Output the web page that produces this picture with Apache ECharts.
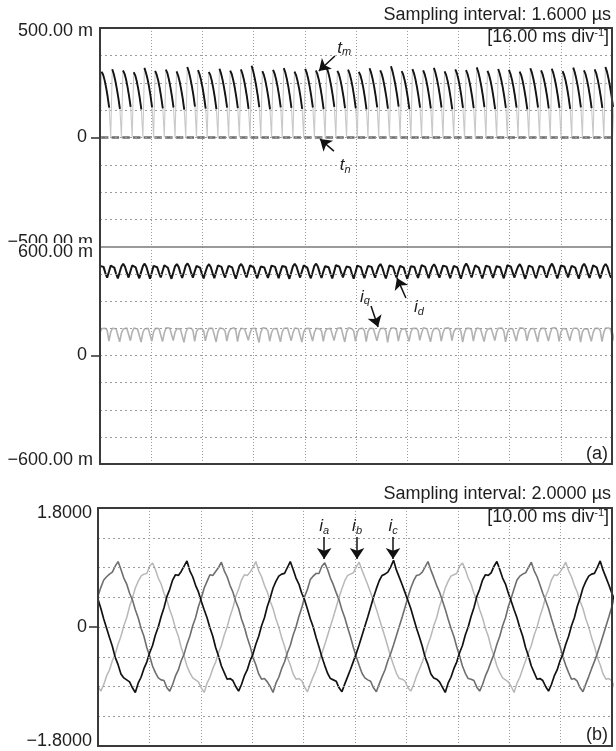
<!DOCTYPE html>
<html>
<head>
<meta charset="utf-8">
<script src="https://cdn.jsdelivr.net/npm/echarts@6/dist/echarts.min.js"></script>
<style>
  html, body { margin: 0; padding: 0; background: #fff; }
  #chart { width: 616px; height: 751px; }
</style>
</head>
<body>
<div id="chart"></div>
<script>
// ---- scope captures (time in ms) ----
const TM_STEP = 0.4786;   // torque trace sample step
const DQ_STEP = 0.5583;   // id / iq sample step
const PH_STEP = 0.5583;   // phase-current sample step

// electromagnetic torque t_m (m-units), one tooth per 7 samples
const tmValues = [
  0, 300, 288, 262, 228, 186, 136,
  0, 312, 290, 259, 222, 180, 131,
  0, 306, 292, 266, 230, 188, 140,
  0, 298, 284, 257, 221, 178, 128,
  0, 318, 296, 268, 233, 190, 138,
  0, 304, 287, 260, 225, 182, 133,
  0, 310, 294, 265, 229, 187, 137,
  0, 302, 283, 256, 220, 179, 127,
  0, 322, 300, 270, 234, 192, 141,
  0, 308, 289, 261, 226, 183, 132,
  0, 299, 286, 259, 223, 181, 130,
  0, 314, 293, 264, 228, 186, 136,
  0, 305, 290, 262, 227, 184, 134,
  0, 311, 291, 263, 226, 183, 131,
  0, 328, 304, 272, 235, 191, 139,
  0, 303, 286, 258, 222, 180, 129,
  0, 309, 292, 265, 230, 188, 138,
  0, 317, 297, 267, 231, 187, 135,
  0, 301, 285, 258, 224, 182, 131,
  0, 313, 295, 266, 229, 186, 137,
  0, 306, 288, 260, 224, 181, 130,
  0, 320, 298, 269, 233, 190, 140,
  0, 304, 289, 262, 227, 185, 134,
  0, 310, 291, 263, 228, 184, 133,
  0, 300, 285, 258, 223, 180, 128,
  0, 316, 296, 268, 232, 189, 138,
  0, 307, 290, 261, 225, 183, 132,
  0, 325, 302, 271, 235, 192, 141,
  0, 303, 287, 259, 224, 181, 130,
  0, 312, 293, 265, 229, 186, 136,
  0, 306, 289, 262, 226, 183, 133,
  0, 318, 297, 267, 231, 188, 137,
  0, 302, 286, 258, 222, 179, 129,
  0, 311, 294, 266, 230, 187, 135,
  0, 308, 290, 262, 227, 185, 134,
  0, 320, 299, 269, 233, 190, 139,
  0, 304, 287, 259, 223, 180, 130,
  0, 313, 292, 263, 228, 185, 135,
  0, 309, 291, 264, 229, 186, 136,
  0, 301, 285, 257, 221, 179, 128,
  0, 316, 296, 267, 231, 188, 137,
  0, 306, 289, 261, 226, 184, 133,
  0, 314, 294, 265, 229, 186, 135,
  0, 303, 287, 260, 225, 182, 131,
  0, 319, 298, 268, 232, 189, 138,
  0, 307, 290, 262, 227, 184, 134,
  0, 311, 293, 264, 228, 185, 135,
  0, 322, 301, 270, 233, 190, 140,
  0
];

// load torque t_n (m-units)
const tnTimes = [0, 160];
const tnValues = [0, 0];

// d-axis current i_d (mA)
const idValues = [
  495, 506, 490, 456, 430, 463,  497, 503, 486, 452, 426, 460,
  492, 507, 491, 458, 431, 465,  498, 504, 487, 453, 427, 461,
  494, 508, 489, 455, 425, 459,  496, 502, 488, 457, 432, 466,
  499, 505, 485, 451, 424, 458,  493, 506, 490, 456, 429, 462,
  497, 509, 492, 458, 430, 464,  495, 503, 486, 452, 426, 460,
  491, 505, 489, 455, 428, 463,  498, 507, 490, 457, 431, 465,
  496, 504, 487, 453, 425, 459,  494, 506, 491, 458, 432, 466,
  499, 508, 488, 454, 427, 461,  492, 503, 487, 455, 429, 462,
  497, 506, 490, 456, 428, 463,  495, 505, 489, 452, 424, 458,
  493, 507, 492, 459, 431, 465,  498, 504, 486, 453, 427, 460,
  496, 508, 490, 456, 429, 464,  494, 505, 488, 454, 426, 461,
  499, 506, 491, 458, 432, 466,  492, 503, 487, 452, 425, 459,
  497, 507, 489, 455, 428, 462,  495, 504, 490, 457, 430, 464,
  493, 506, 487, 453, 426, 460,  498, 508, 491, 458, 431, 465,
  496, 503, 486, 452, 424, 458,  494, 505, 489, 456, 429, 463,
  499, 507, 490, 455, 427, 461,  492, 504, 488, 454, 430, 464,
  497, 506, 491, 457, 428, 462,  495, 505, 487, 453, 425, 459,
  493, 508, 492, 459, 432, 466,  498, 503, 486, 452, 426, 460,
  496, 506, 490, 456, 429, 463,  494, 504, 488, 454, 427, 461,
  499, 507, 491, 458, 431, 465,  492, 505, 487, 453, 424, 458,
  497, 506, 489, 455, 428, 462,  495, 503, 490, 457, 430, 464,
  493, 508, 488, 454, 426, 460,  498, 505, 491, 458, 432, 466,
  496, 504, 486, 452, 425, 459,  494, 507, 490, 456, 429, 463,
  499, 505, 488, 453, 427, 461,  492, 506, 491, 458, 430, 464,
  495
];

// q-axis current i_q (mA)
const iqValues = [
  126, 149, 156, 151, 139, 80,  130, 151, 154, 148, 137, 76,
  124, 147, 157, 152, 141, 82,  129, 152, 153, 147, 136, 74,
  127, 148, 158, 150, 140, 79,  131, 150, 155, 149, 138, 77,
  125, 153, 156, 152, 142, 83,  128, 149, 154, 146, 135, 73,
  126, 151, 157, 151, 139, 78,  132, 148, 153, 149, 137, 81,
  124, 150, 156, 150, 141, 75,  129, 152, 155, 148, 136, 80,
  127, 147, 158, 153, 140, 77,  130, 151, 154, 147, 138, 84,
  125, 149, 156, 151, 142, 72,  128, 153, 155, 150, 136, 79,
  126, 148, 157, 149, 139, 76,  131, 150, 153, 152, 141, 82,
  124, 152, 156, 148, 137, 74,  129, 149, 158, 151, 140, 80,
  127, 151, 154, 147, 135, 78,  130, 147, 155, 150, 139, 83,
  125, 150, 157, 153, 142, 75,  128, 153, 154, 148, 136, 79,
  126, 148, 156, 151, 138, 77,  132, 151, 153, 149, 141, 81,
  124, 149, 158, 150, 137, 73,  129, 152, 155, 152, 140, 80,
  127, 147, 156, 147, 136, 78,  130, 150, 154, 151, 139, 84,
  125, 153, 157, 148, 142, 76,  128, 149, 155, 150, 137, 79,
  126, 151, 153, 153, 141, 82,  131, 148, 156, 149, 135, 74,
  124, 150, 158, 151, 139, 80,  129, 152, 154, 147, 138, 77,
  127, 147, 157, 150, 140, 83,  130, 151, 155, 152, 136, 75,
  125, 149, 156, 148, 141, 79,  128, 153, 153, 151, 137, 81,
  126, 148, 158, 149, 139, 76,  132, 150, 154, 150, 142, 80,
  124, 152, 156, 153, 136, 78,  129, 149, 155, 147, 140, 82,
  127, 151, 157, 151, 138, 74,  130, 147, 154, 148, 141, 79,
  125, 150, 156, 150, 137, 77,  128, 152, 155, 152, 139, 81,
  127
];

// phase currents (A)
const iaValues = [
  0.47, 0.60, 0.71, 0.76, 0.80, 0.83, 0.92, 0.99, 0.87, 0.74, 0.65, 0.51, 0.41, 0.26, 0.14, -0.02, -0.14, -0.31,
  -0.44, -0.59, -0.69, -0.77, -0.80, -0.81, -0.92, -0.97, -0.87, -0.74, -0.65, -0.51, -0.41, -0.26, -0.14, 0.02, 0.14, 0.31,
  0.44, 0.59, 0.69, 0.79, 0.78, 0.84, 0.90, 0.98, 0.85, 0.76, 0.63, 0.53, 0.39, 0.28, 0.12, 0.00, -0.16, -0.29,
  -0.46, -0.57, -0.71, -0.79, -0.78, -0.83, -0.90, -0.99, -0.85, -0.76, -0.63, -0.53, -0.39, -0.28, -0.12, 0.00, 0.16, 0.29,
  0.46, 0.57, 0.72, 0.77, 0.81, 0.81, 0.92, 0.97, 0.87, 0.74, 0.64, 0.52, 0.41, 0.26, 0.14, -0.01, -0.15, -0.31,
  -0.45, -0.58, -0.70, -0.77, -0.80, -0.82, -0.92, -0.98, -0.86, -0.75, -0.65, -0.51, -0.40, -0.27, -0.13, 0.01, 0.15, 0.30,
  0.45, 0.59, 0.70, 0.78, 0.79, 0.83, 0.91, 0.99, 0.86, 0.75, 0.63, 0.53, 0.40, 0.27, 0.12, -0.02, -0.14, -0.30,
  -0.44, -0.59, -0.70, -0.78, -0.79, -0.81, -0.91, -0.97, -0.87, -0.74, -0.64, -0.52, -0.41, -0.26, -0.14, 0.02, 0.14, 0.31,
  0.44, 0.58, 0.71, 0.77, 0.80, 0.82, 0.90, 0.98, 0.85, 0.76, 0.64, 0.51, 0.40, 0.28, 0.13, -0.01, -0.16, -0.29,
  -0.45, -0.58, -0.69, -0.79, -0.78, -0.82, -0.92, -0.98, -0.86, -0.75, -0.63, -0.52, -0.40, -0.27, -0.13, 0.01, 0.15, 0.30,
  0.46
];
const ibValues = [
  -0.90, -0.97, -0.87, -0.74, -0.65, -0.51, -0.41, -0.26, -0.14, 0.02, 0.14, 0.31, 0.44, 0.59, 0.69, 0.77, 0.80, 0.81,
  0.92, 0.97, 0.87, 0.74, 0.65, 0.51, 0.41, 0.26, 0.14, -0.02, -0.14, -0.31, -0.44, -0.59, -0.69, -0.77, -0.80, -0.83,
  -0.92, -0.99, -0.85, -0.76, -0.63, -0.53, -0.39, -0.28, -0.12, 0.00, 0.16, 0.29, 0.46, 0.57, 0.71, 0.79, 0.78, 0.83,
  0.90, 0.99, 0.85, 0.76, 0.63, 0.53, 0.39, 0.28, 0.12, 0.00, -0.16, -0.29, -0.46, -0.57, -0.71, -0.79, -0.78, -0.81,
  -0.91, -0.98, -0.86, -0.75, -0.65, -0.52, -0.40, -0.27, -0.13, 0.01, 0.15, 0.30, 0.45, 0.58, 0.70, 0.78, 0.80, 0.82,
  0.91, 0.98, 0.86, 0.75, 0.64, 0.52, 0.40, 0.27, 0.13, -0.01, -0.15, -0.30, -0.45, -0.58, -0.70, -0.78, -0.79, -0.82,
  -0.92, -0.97, -0.87, -0.74, -0.64, -0.53, -0.41, -0.26, -0.14, 0.02, 0.14, 0.31, 0.44, 0.59, 0.69, 0.77, 0.79, 0.81,
  0.92, 0.97, 0.87, 0.74, 0.65, 0.51, 0.41, 0.26, 0.14, -0.02, -0.14, -0.31, -0.44, -0.59, -0.69, -0.77, -0.80, -0.83,
  -0.90, -0.99, -0.85, -0.76, -0.63, -0.51, -0.39, -0.28, -0.12, 0.00, 0.16, 0.29, 0.46, 0.57, 0.71, 0.79, 0.78, 0.83,
  0.90, 0.98, 0.85, 0.76, 0.63, 0.53, 0.39, 0.28, 0.12, 0.00, -0.16, -0.29, -0.46, -0.57, -0.71, -0.79, -0.78, -0.81,
  -0.91
];
const icValues = [
  0.42, 0.28, 0.12, -0.02, -0.16, -0.29, -0.46, -0.57, -0.71, -0.77, -0.80, -0.83, -0.92, -0.99, -0.85, -0.76, -0.63, -0.53,
  -0.39, -0.28, -0.12, 0.00, 0.16, 0.29, 0.46, 0.57, 0.71, 0.79, 0.78, 0.84, 0.92, 1.00, 0.85, 0.76, 0.63, 0.53,
  0.39, 0.26, 0.14, -0.01, -0.14, -0.31, -0.44, -0.59, -0.69, -0.79, -0.78, -0.81, -0.90, -0.97, -0.87, -0.74, -0.65, -0.51,
  -0.41, -0.26, -0.14, 0.02, 0.14, 0.31, 0.44, 0.59, 0.69, 0.77, 0.80, 0.81, 0.90, 0.99, 0.87, 0.74, 0.65, 0.51,
  0.41, 0.27, 0.12, 0.00, -0.16, -0.30, -0.45, -0.58, -0.70, -0.78, -0.80, -0.82, -0.92, -0.98, -0.86, -0.75, -0.64, -0.52,
  -0.40, -0.27, -0.13, 0.01, 0.15, 0.30, 0.45, 0.58, 0.70, 0.78, 0.80, 0.83, 0.91, 1.01, 0.86, 0.75, 0.64, 0.52,
  0.40, 0.28, 0.13, -0.02, -0.15, -0.29, -0.46, -0.57, -0.71, -0.77, -0.79, -0.83, -0.91, -0.99, -0.85, -0.76, -0.63, -0.53,
  -0.39, -0.28, -0.12, 0.00, 0.16, 0.29, 0.46, 0.57, 0.71, 0.79, 0.78, 0.82, 0.92, 0.99, 0.87, 0.74, 0.65, 0.51,
  0.39, 0.26, 0.14, -0.01, -0.14, -0.31, -0.44, -0.59, -0.69, -0.79, -0.78, -0.81, -0.90, -0.97, -0.87, -0.74, -0.65, -0.51,
  -0.41, -0.26, -0.14, 0.02, 0.14, 0.31, 0.44, 0.59, 0.69, 0.77, 0.80, 0.81, 0.90, 1.00, 0.86, 0.75, 0.64, 0.52,
  0.41
];

// axis labels
const torqueTicks = [-500, 0, 500];
const torqueTickText = ['\u2212500.00 m', '0', '500.00 m'];
const dqTicks = [-600, 0, 600];
const dqTickText = ['\u2212600.00 m', '0', '600.00 m'];
const phaseTicks = [-1.8, 0, 1.8];
const phaseTickText = ['\u22121.8000', '0', '1.8000'];

// annotation anchors: [label x, label y, arrow start x, y, arrow end x, y] in data units
const tmNote = [76.3, 409, 73.4, 372, 68.4, 304];
const tnNote = [76.6, -126, 73.1, -62, 68.75, -7];
const idNote = [99.7, 268, 95.6, 318, 92.8, 429];
const iqNote = [82.8, 324, 84.7, 274, 86.9, 158];
const iaNote = [44.0, 1.52, 44.0, 1.36, 44.0, 1.03];
const ibNote = [50.4, 1.52, 50.4, 1.36, 50.4, 1.03];
const icNote = [57.4, 1.52, 57.4, 1.36, 57.4, 1.03];

// ---- layout ----
const FONT = '"Liberation Sans", Arial, Helvetica, sans-serif';
const A = { left: 100, top: 28, width: 512, h1: 219, h2: 217 };
const B = { left: 98, top: 508, width: 514, height: 238 };
const GRID_COLOR = '#9c9c9c';
const FRAME_COLOR = '#3a3a3a';
const TEXT_COLOR = '#1e1e1e';

const toPoints = (vals, step) => vals.map((v, i) => [+(i * step).toFixed(4), v]);
// slow part of the torque trace (fast switching edges show faint on the scope)
const toSlowPoints = (vals, step) => vals.map((v, i) => [+(i * step).toFixed(4), v > 0 ? v : null]);

const baseText = { fontSize: 18, fontFamily: FONT, color: TEXT_COLOR };

// value axis carrying grid lines and the three end/zero labels
function yAxis(gridIndex, ticks, texts, min, max, interval, rich, margin, wrapHi) {
  return {
    type: 'value', gridIndex, min, max, interval, position: 'left',
    z: 3 + gridIndex,
    axisLine: { show: false },
    axisTick: { show: false },
    splitLine: { show: true, lineStyle: { color: GRID_COLOR, width: 1, type: [2, 3] } },
    axisLabel: {
      show: true, margin, showMinLabel: true, showMaxLabel: true,
      formatter: (v) => {
        const k = ticks.findIndex(t => Math.abs(t - v) < 1e-9);
        if (k < 0) return '';
        const key = ['lo', 'z', 'hi'][k];
        if (key === 'hi' && wrapHi) return '{sp| }\n{hi|' + texts[k] + '}';
        return '{' + key + '|' + texts[k] + '}';
      },
      rich
    }
  };
}

// companion axis that only draws the short tick at zero
function zeroTickAxis(gridIndex, min, max, interval) {
  return {
    type: 'value', gridIndex, min, max, interval, position: 'left', offset: 0,
    axisLine: { show: false },
    axisLabel: { show: false },
    splitLine: { show: false },
    axisTick: { show: true, customValues: [0], length: 9,
                lineStyle: { color: FRAME_COLOR, width: 1.6 } }
  };
}

function xAxis(gridIndex, max, interval, sepLine) {
  return {
    type: 'value', gridIndex, min: 0, max, interval,
    axisLabel: { show: false }, axisTick: { show: false },
    axisLine: sepLine ? { show: true, onZero: false, lineStyle: { color: '#7a7a7a', width: 1.6 } } : { show: false },
    splitLine: { show: true, lineStyle: { color: GRID_COLOR, width: 1, type: [1, 2] } }
  };
}

function arrowLine(note) {
  return [{ coord: [note[2], note[3]] }, { coord: [note[4], note[5]] }];
}

function noteLabel(note, main, sub) {
  return {
    coord: [note[0], note[1]],
    label: { formatter: '{v|' + main + '}{s|' + sub + '}' }
  };
}

const noteRich = {
  v: { fontSize: 17, fontStyle: 'italic', fontFamily: FONT, color: TEXT_COLOR, lineHeight: 20 },
  s: { fontSize: 11, fontStyle: 'italic', fontFamily: FONT, color: TEXT_COLOR, lineHeight: 20, padding: [9, 0, 0, 0] }
};

function notes(lines, labels) {
  return {
    markLine: {
      silent: true, animation: false,
      symbol: ['none', 'arrow'],
      symbolSize: 11,
      lineStyle: { color: '#111', width: 1.5, type: 'solid' },
      itemStyle: { color: '#111' },
      label: { show: false },
      emphasis: { disabled: true },
      data: lines
    },
    markPoint: {
      silent: true, animation: false,
      symbol: 'rect', symbolSize: 1,
      itemStyle: { color: 'rgba(0,0,0,0)' },
      label: { show: true, position: 'inside', rich: noteRich },
      data: labels
    }
  };
}

const chart = echarts.init(document.getElementById('chart'), null, { renderer: 'canvas' });

chart.setOption({
  animation: false,
  backgroundColor: '#fff',
  grid: [
    { left: A.left, top: A.top, width: A.width, height: A.h1 },
    { left: A.left, top: A.top + A.h1, width: A.width, height: A.h2 },
    { left: B.left, top: B.top, width: B.width, height: B.height }
  ],
  xAxis: [
    xAxis(0, 160, 16, true),
    xAxis(1, 160, 16, false),
    xAxis(2, 100, 10, false)
  ],
  yAxis: [
    yAxis(0, torqueTicks, torqueTickText, -500, 500, 125, {
      hi: Object.assign({}, baseText, { padding: [7, 0, 0, 0] }),
      lo: Object.assign({}, baseText, { padding: [0, 0, 10, 0] }),
      z:  Object.assign({}, baseText, { padding: [0, 6, 0, 0] })
    }, 7, false),
    yAxis(1, dqTicks, dqTickText, -600, 600, 150, {
      sp: { fontSize: 6, lineHeight: 10 },
      hi: Object.assign({}, baseText, { lineHeight: 15, backgroundColor: '#fff' }),
      lo: Object.assign({}, baseText, { padding: [0, 0, 8, 0] }),
      z:  Object.assign({}, baseText, { padding: [0, 6, 0, 0] })
    }, 7, true),
    yAxis(2, phaseTicks, phaseTickText, -1.8, 1.8, 0.45, {
      hi: Object.assign({}, baseText, { padding: [10, 0, 0, 0] }),
      lo: Object.assign({}, baseText, { padding: [0, 0, 10, 0] }),
      z:  Object.assign({}, baseText, { padding: [0, 5, 0, 0] })
    }, 6, false),
    zeroTickAxis(0, -500, 500, 125),
    zeroTickAxis(1, -600, 600, 150),
    zeroTickAxis(2, -1.8, 1.8, 0.45)
  ],
  series: [
    Object.assign({
      name: 't_n', type: 'line', xAxisIndex: 0, yAxisIndex: 0, z: 2,
      symbol: 'none', silent: true,
      lineStyle: { color: '#6c6c6c', width: 2.6, type: [7.5, 3.2], dashOffset: 9.8 },
      data: tnTimes.map((t, i) => [t, tnValues[i]])
    }, notes(
      [arrowLine(tmNote), arrowLine(tnNote)],
      [noteLabel(tmNote, 't', 'm'), noteLabel(tnNote, 't', 'n')]
    )),
    {
      name: 't_m', type: 'line', xAxisIndex: 0, yAxisIndex: 0, z: 3,
      symbol: 'none', silent: true,
      lineStyle: { color: '#c9c9c9', width: 1.1 },
      data: toPoints(tmValues, TM_STEP)
    },
    {
      name: 't_m slow', type: 'line', xAxisIndex: 0, yAxisIndex: 0, z: 4,
      symbol: 'none', silent: true, connectNulls: false,
      lineStyle: { color: '#141414', width: 1.9 },
      data: toSlowPoints(tmValues, TM_STEP)
    },
    {
      name: 'i_q', type: 'line', xAxisIndex: 1, yAxisIndex: 1, z: 2,
      symbol: 'none', silent: true,
      lineStyle: { color: '#b2b2b2', width: 1.6 },
      data: toPoints(iqValues, DQ_STEP)
    },
    Object.assign({
      name: 'i_d', type: 'line', xAxisIndex: 1, yAxisIndex: 1, z: 3,
      symbol: 'none', silent: true,
      lineStyle: { color: '#161616', width: 2 },
      data: toPoints(idValues, DQ_STEP)
    }, notes(
      [arrowLine(idNote), arrowLine(iqNote)],
      [noteLabel(idNote, 'i', 'd'), noteLabel(iqNote, 'i', 'q')]
    )),
    {
      name: 'i_b', type: 'line', xAxisIndex: 2, yAxisIndex: 2, z: 2,
      symbol: 'none', silent: true,
      lineStyle: { color: '#b8b8b8', width: 1.5 },
      data: toPoints(ibValues, PH_STEP)
    },
    {
      name: 'i_a', type: 'line', xAxisIndex: 2, yAxisIndex: 2, z: 3,
      symbol: 'none', silent: true,
      lineStyle: { color: '#6e6e6e', width: 1.6 },
      data: toPoints(iaValues, PH_STEP)
    },
    Object.assign({
      name: 'i_c', type: 'line', xAxisIndex: 2, yAxisIndex: 2, z: 4,
      symbol: 'none', silent: true,
      lineStyle: { color: '#121212', width: 1.7 },
      data: toPoints(icValues, PH_STEP)
    }, notes(
      [arrowLine(iaNote), arrowLine(ibNote), arrowLine(icNote)],
      [noteLabel(iaNote, 'i', 'a'), noteLabel(ibNote, 'i', 'b'), noteLabel(icNote, 'i', 'c')]
    ))
  ],
  graphic: [
    { type: 'rect', z: 100, silent: true,
      shape: { x: A.left, y: A.top, width: A.width, height: A.h1 + A.h2 },
      style: { fill: 'none', stroke: FRAME_COLOR, lineWidth: 2 } },
    { type: 'rect', z: 100, silent: true,
      shape: { x: B.left, y: B.top, width: B.width, height: B.height },
      style: { fill: 'none', stroke: FRAME_COLOR, lineWidth: 2 } },
    { type: 'text', z: 100, silent: true, x: 611, y: 15,
      style: { text: 'Sampling interval: 1.6000 \u00b5s', font: '18px ' + FONT, fill: TEXT_COLOR,
               align: 'right', verticalAlign: 'middle' } },
    { type: 'text', z: 100, silent: true, x: 609, y: 37,
      style: { text: '[16.00 ms div{sup|-1}]', font: '18px ' + FONT, fill: TEXT_COLOR,
               align: 'right', verticalAlign: 'middle',
               rich: { sup: { fontSize: 11, fontFamily: FONT, fill: TEXT_COLOR, verticalAlign: 'top', lineHeight: 20 } } } },
    { type: 'text', z: 100, silent: true, x: 608, y: 454,
      style: { text: '(a)', font: '18px ' + FONT, fill: TEXT_COLOR, align: 'right', verticalAlign: 'middle' } },
    { type: 'text', z: 100, silent: true, x: 611, y: 494,
      style: { text: 'Sampling interval: 2.0000 \u00b5s', font: '18px ' + FONT, fill: TEXT_COLOR,
               align: 'right', verticalAlign: 'middle' } },
    { type: 'text', z: 100, silent: true, x: 609, y: 517,
      style: { text: '[10.00 ms div{sup|-1}]', font: '18px ' + FONT, fill: TEXT_COLOR,
               align: 'right', verticalAlign: 'middle',
               rich: { sup: { fontSize: 11, fontFamily: FONT, fill: TEXT_COLOR, verticalAlign: 'top', lineHeight: 20 } } } },
    { type: 'text', z: 100, silent: true, x: 608, y: 735,
      style: { text: '(b)', font: '18px ' + FONT, fill: TEXT_COLOR, align: 'right', verticalAlign: 'middle' } }
  ]
});
</script>
</body>
</html>
